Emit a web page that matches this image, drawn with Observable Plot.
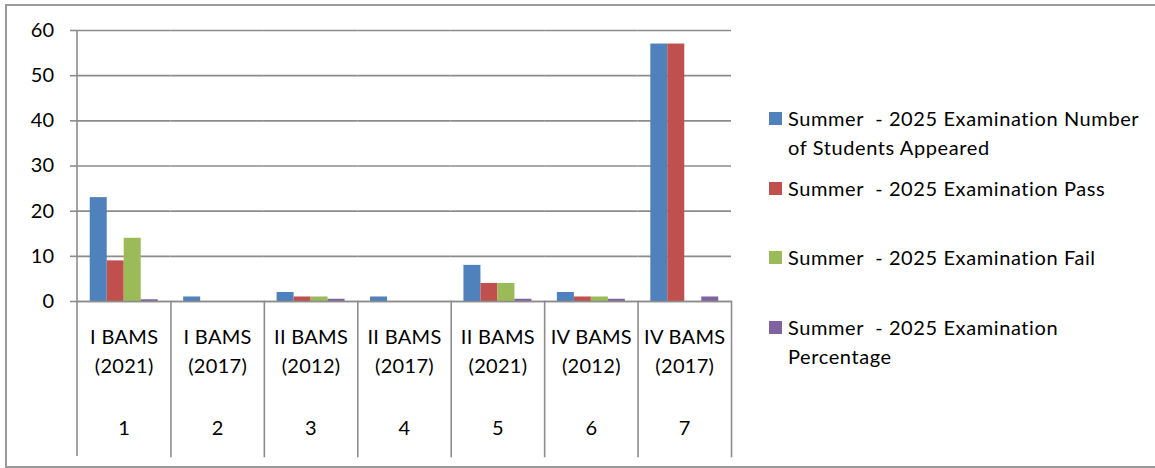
<!DOCTYPE html>
<html>
<head>
<meta charset="utf-8">
<script src="https://cdn.jsdelivr.net/npm/d3@7"></script>
<script src="https://cdn.jsdelivr.net/npm/@observablehq/plot@0.6"></script>
<style>
  body { margin: 0; background: #fff; font-family: Lato, "Open Sans", sans-serif; }
  #wrap { position: relative; width: 1155px; height: 468px; overflow: hidden; }
  #border { position: absolute; left: 5px; top: 4px; width: 1160px; height: 464px; border: 2px solid #9a9a9a; box-sizing: border-box; }
  #chart { position: absolute; left: 0; top: 0; }
  #legend { position: absolute; left: 769px; top: 0; font-size: 20px; color: #000; letter-spacing: 0.6px; }
  .item { position: absolute; left: 0; width: 390px; line-height: 29px; }
  .sw { position: absolute; left: 0; width: 13px; height: 13px; }
  .lbl { position: absolute; left: 19px; white-space: pre; }
</style>
</head>
<body>
<div id="wrap">
  <div id="border"></div>
  <div id="chart"></div>
  <div id="legend"></div>
</div>
<script>
const categories = [1, 2, 3, 4, 5, 6, 7];
const courseLabels = ["I BAMS\n(2021)", "I BAMS\n(2017)", "II BAMS\n(2012)", "II BAMS\n(2017)", "II BAMS\n(2021)", "IV BAMS\n(2012)", "IV BAMS\n(2017)"];
const seriesNames = [
  "Summer  - 2025 Examination Number of Students Appeared",
  "Summer  - 2025 Examination Pass",
  "Summer  - 2025 Examination Fail",
  "Summer  - 2025 Examination Percentage"
];
const appeared   = [23, 1, 2, 1, 8, 2, 57];
const pass       = [9, 0, 1, 0, 4, 1, 57];
const fail       = [14, 0, 1, 0, 4, 1, 0];
const percentage = [0.39, 0, 0.5, 0, 0.5, 0.5, 1];
const yTicks = [0, 10, 20, 30, 40, 50, 60];
const colors = ["#4F81BD", "#C0504D", "#9BBB59", "#8064A2"];

const seriesValues = [appeared, pass, fail, percentage];
const rows = [];
categories.forEach((c, i) => {
  seriesNames.forEach((s, j) => rows.push({cat: c, series: s, value: seriesValues[j][i]}));
});

const W = 740, H = 468, mt = 30, mb = 167, ml = 77, mr = 9;
const innerH = H - mt - mb;
const below = 155;
const gray = "#8c8c8c";
const font = "Lato, 'Open Sans', sans-serif";

const chart = Plot.plot({
  width: W, height: H,
  marginTop: mt, marginBottom: mb, marginLeft: ml, marginRight: mr,
  style: {fontFamily: font, fontSize: "20px", color: "#000", background: "transparent", letterSpacing: "0.3px"},
  fx: {domain: categories, paddingInner: 0, paddingOuter: 0, round: false, label: null},
  x: {domain: seriesNames, paddingInner: 0, paddingOuter: 0.75, round: false, axis: null},
  y: {domain: [0, 60], label: null},
  color: {domain: seriesNames, range: colors},
  marks: [
    Plot.gridY(yTicks, {stroke: gray, strokeOpacity: 1, strokeWidth: 1.6}),
    Plot.barY(rows, {fx: "cat", x: "series", y: "value", fill: "series", insetLeft: 0, insetRight: 0}),
    Plot.ruleY([0], {stroke: gray, strokeWidth: 1.6}),
    Plot.frame({anchor: "right", insetTop: innerH, insetBottom: -below, stroke: gray, strokeWidth: 1.6}),
    Plot.axisY(yTicks, {tickSize: 7, tickPadding: 16, stroke: gray, strokeWidth: 1.6, fontSize: 20, fill: "#000"}),
    Plot.axisFx({anchor: "bottom", tickSize: 0, tickPadding: 22, lineHeight: 1.45, fontSize: 20, fill: "#000", tickFormat: d => courseLabels[categories.indexOf(d)]}),
    Plot.axisFx({anchor: "bottom", tickSize: 0, tickPadding: 119, fontSize: 20, fill: "#000", tickFormat: d => String(d)})
  ]
});
document.getElementById("chart").appendChild(chart);

// y-axis line, extended below the baseline
const svg = d3.select(chart);
const yS = chart.scale("y");
svg.append("line")
  .attr("x1", ml).attr("x2", ml)
  .attr("y1", yS.apply(60)).attr("y2", yS.apply(0) + below)
  .attr("stroke", gray).attr("stroke-width", 1.6);

// legend
const legendLayout = [
  {lines: ["Summer  - 2025 Examination Number", "of Students Appeared"], y: 103.5},
  {lines: ["Summer  - 2025 Examination Pass"], y: 173.5},
  {lines: ["Summer  - 2025 Examination Fail"], y: 242.5},
  {lines: ["Summer  - 2025 Examination", "Percentage"], y: 312.5}
];
const legend = document.getElementById("legend");
legendLayout.forEach((it, i) => {
  const d = document.createElement("div");
  d.className = "item";
  d.style.top = it.y + "px";
  const sw = document.createElement("div");
  sw.className = "sw";
  sw.style.top = "8px";
  sw.style.background = colors[i];
  const lbl = document.createElement("div");
  lbl.className = "lbl";
  lbl.textContent = it.lines.join("\n");
  d.appendChild(sw);
  d.appendChild(lbl);
  legend.appendChild(d);
});
</script>
</body>
</html>
